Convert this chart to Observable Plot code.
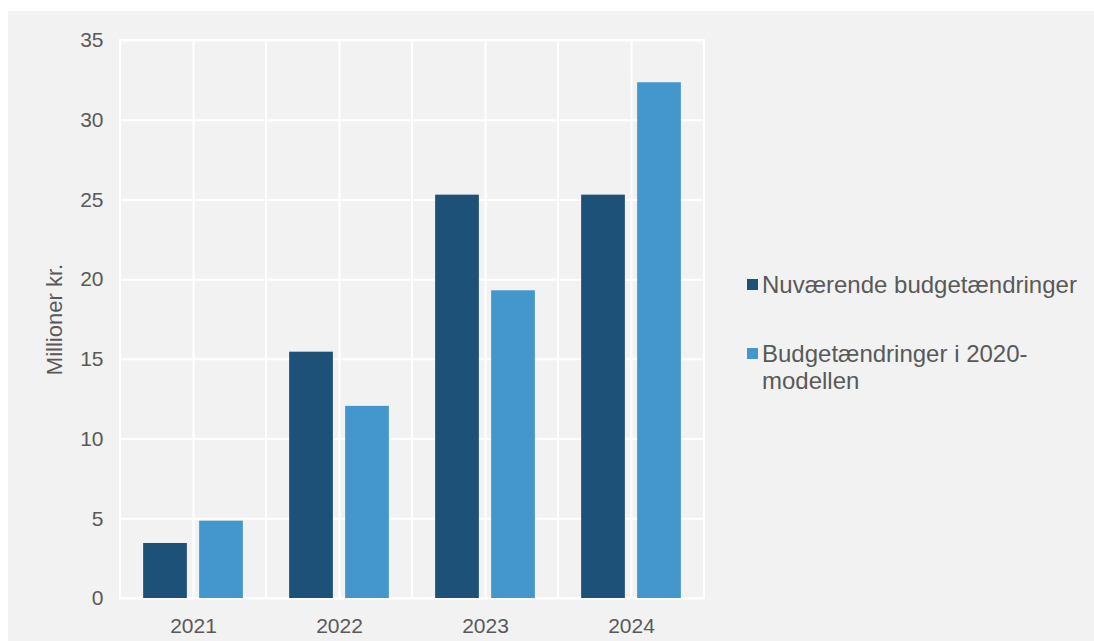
<!DOCTYPE html>
<html>
<head>
<meta charset="utf-8">
<script src="https://cdn.jsdelivr.net/npm/d3@7"></script>
<script src="https://cdn.jsdelivr.net/npm/@observablehq/plot@0.6"></script>
<style>
  html, body { margin: 0; padding: 0; background: #ffffff; }
  body { width: 1094px; height: 641px; position: relative; overflow: hidden; font-family: "Liberation Sans", Arial, sans-serif; }
  #panel { position: absolute; left: 8px; top: 11px; right: 0; bottom: 0; background: #f2f2f2; }
  #chart { position: absolute; left: 0; top: 0; }
  #chart g[aria-label="y-axis label"] { font-size: 22px; }
  #legend { position: absolute; left: 747px; top: 0; color: #595959; font-size: 24px; line-height: 27px; }
  .item { position: absolute; left: 0; width: 340px; }
  .swatch { position: absolute; left: 0; top: 8px; width: 11px; height: 11px; }
  .label { position: absolute; left: 15px; top: 0; width: 320px; }
</style>
</head>
<body>
<div id="panel"></div>
<div id="chart"></div>
<div id="legend"></div>
<script>
// ---- data ----
const years = ["2021", "2022", "2023", "2024"];
const nuvaerende = [3.45, 15.45, 25.3, 25.3];
const model2020 = [4.85, 12.05, 19.3, 32.35];
const seriesNames = ["Nuværende budgetændringer", "Budgetændringer i 2020-modellen"];
const seriesColors = ["#1e5177", "#4497cd"];
const yTicks = [0, 5, 10, 15, 20, 25, 30, 35];
const yDomain = [0, 35];
const yLabel = "Millioner kr.";

// ---- layout ----
const W = 720, H = 641;
const mLeft = 119, mRight = W - 704, mTop = 40, mBottom = H - 598;
const barW = 44, gap = 12;
const step = (W - mLeft - mRight) / years.length;
const inner = step / 2 - gap / 2 - barW;
const outer = step / 2 + gap / 2;

const rows1 = years.map((y, i) => ({year: y, value: nuvaerende[i]}));
const rows2 = years.map((y, i) => ({year: y, value: model2020[i]}));

const chart = Plot.plot({
  width: W,
  height: H,
  marginLeft: mLeft,
  marginRight: mRight,
  marginTop: mTop,
  marginBottom: mBottom,
  style: {background: "transparent", fontFamily: "'Liberation Sans', Arial, sans-serif", fontSize: "21px", color: "#595959"},
  x: {type: "band", domain: years, padding: 0},
  y: {domain: yDomain},
  marks: [
    Plot.gridY(yTicks, {stroke: "#ffffff", strokeOpacity: 1, strokeWidth: 2}),
    Plot.gridX(years, {stroke: "#ffffff", strokeOpacity: 1, strokeWidth: 2}),
    Plot.barY(years, {x: d => d, y1: yDomain[0], y2: yDomain[1], fill: "none", stroke: "#ffffff", strokeWidth: 2}),
    Plot.barY(rows1, {x: "year", y: "value", fill: seriesColors[0], insetLeft: inner, insetRight: outer}),
    Plot.barY(rows2, {x: "year", y: "value", fill: seriesColors[1], insetLeft: outer, insetRight: inner}),
    Plot.axisX({tickSize: 0, tickPadding: 20, label: null, fontSize: 21}),
    Plot.axisY({ticks: yTicks, tickSize: 0, tickPadding: 16, label: yLabel, labelAnchor: "center", labelOffset: 73, labelArrow: "none", fontSize: 21})
  ]
});
document.getElementById("chart").appendChild(chart);

// ---- legend ----
const legend = document.getElementById("legend");
const tops = [271, 340];
seriesNames.forEach((name, i) => {
  const item = document.createElement("div");
  item.className = "item";
  item.style.top = tops[i] + "px";
  const sw = document.createElement("div");
  sw.className = "swatch";
  sw.style.background = seriesColors[i];
  const lb = document.createElement("div");
  lb.className = "label";
  lb.textContent = name;
  item.appendChild(sw);
  item.appendChild(lb);
  legend.appendChild(item);
});
</script>
</body>
</html>
